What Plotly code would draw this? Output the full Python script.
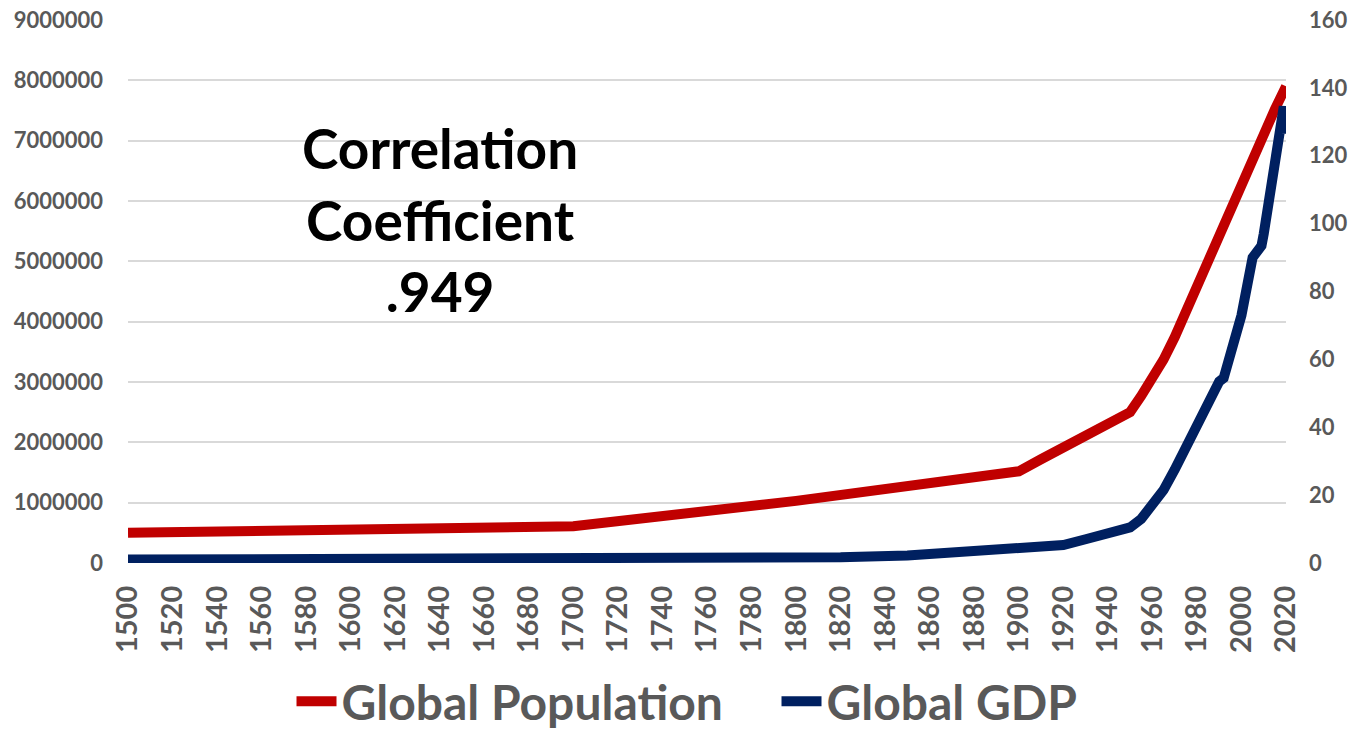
import plotly.graph_objects as go

# ---- data ----
pop_years = [1500, 1600, 1700, 1800, 1850, 1900, 1910, 1920, 1930, 1940, 1950,
             1955, 1960, 1965, 1970, 1975, 1980, 1985, 1990, 1995, 2000, 2005,
             2010, 2015, 2020]
population = [500000, 560000, 610000, 1030000, 1270000, 1520000, 1720000, 1910000,
              2100000, 2300000, 2500000, 2770000, 3050000, 3370000, 3740000,
              4170000, 4600000, 5030000, 5450000, 5870000, 6280000, 6700000,
              7120000, 7520000, 7900000]

gdp_years = [1500, 1600, 1700, 1800, 1820, 1850, 1870, 1900, 1913, 1920, 1930,
             1940, 1950, 1955, 1960, 1965, 1970, 1975, 1980, 1985, 1987, 1990,
             1992, 1995, 2000, 2005, 2007, 2009, 2010, 2013, 2017, 2019, 2020]
gdp = [1.0, 1.1, 1.3, 1.5, 1.7, 2.2, 2.9, 4.2, 5.0, 5.3, 7.0,
       8.8, 10.5, 13.0, 17.5, 21.5, 27.5, 34.0, 41.0, 47.5, 51.0, 53.5,
       54.5, 61.0, 73.0, 90.0, 92.0, 93.5, 97.0, 110.0, 129.0, 134.5, 126.5]

series_names = ["Global Population", "Global GDP"]
annotation_text = ["Correlation", "Coefficient", ".949"]

RED = "#C00000"
NAVY = "#002060"
GRAY = "#595959"
FONT = "Lato"

W, H = 1359, 730

fig = go.Figure()
fig.add_trace(go.Scatter(x=pop_years, y=population, name=series_names[0],
                         mode="lines", line=dict(color=RED, width=10)))
fig.add_trace(go.Scatter(x=gdp_years, y=gdp, name=series_names[1], yaxis="y2",
                         mode="lines", line=dict(color=NAVY, width=10)))

fig.update_layout(
    width=W, height=H,
    margin=dict(l=128, r=73, t=20, b=167, autoexpand=False),
    paper_bgcolor="white", plot_bgcolor="white",
    font=dict(family=FONT, color=GRAY),
    xaxis=dict(range=[1500, 2020], tick0=1500, dtick=20, tickangle=-90,
               showgrid=False, zeroline=False, showline=False, automargin=False,
               ticks="", ticklabelstandoff=16, ticklabeloverflow="allow",
               tickfont=dict(family=FONT, size=29, color=GRAY, weight="bold")),
    yaxis=dict(range=[0, 9000000], dtick=1000000, showgrid=True,
               gridcolor="#D9D9D9", gridwidth=1.5, zeroline=False, automargin=False,
               showline=False, ticks="", ticklabelstandoff=24,
               ticklabeloverflow="allow", tickformat="d",
               tickfont=dict(family=FONT, size=22, color=GRAY, weight="bold")),
    yaxis2=dict(range=[0, 160], dtick=20, overlaying="y", side="right",
                showgrid=False, zeroline=False, showline=False, ticks="",
                ticklabelstandoff=22, automargin=False, ticklabeloverflow="allow",
                tickfont=dict(family=FONT, size=22, color=GRAY, weight="bold")),
    legend=dict(orientation="h", xref="container", yref="container",
                x=0.2145, y=0.039, xanchor="left", yanchor="middle",
                font=dict(family=FONT, size=48, color=GRAY, weight="bold"),
                itemwidth=40, entrywidth=430, entrywidthmode="pixels",
                traceorder="normal"),
    showlegend=True,
)

fig.add_annotation(
    text="<br>".join(annotation_text),
    x=0.2694, y=0.632, xref="paper", yref="paper",
    xanchor="center", yanchor="middle", showarrow=False,
    font=dict(family=FONT, size=55, color="black", weight="bold"),
    align="center",
)

# remove the browser's default 8px page margin so the figure fills the window
fig.write_html("out.html",
               config={"displayModeBar": False},
               post_script="document.body.style.margin='0';"
                           "document.body.style.overflow='hidden';")
